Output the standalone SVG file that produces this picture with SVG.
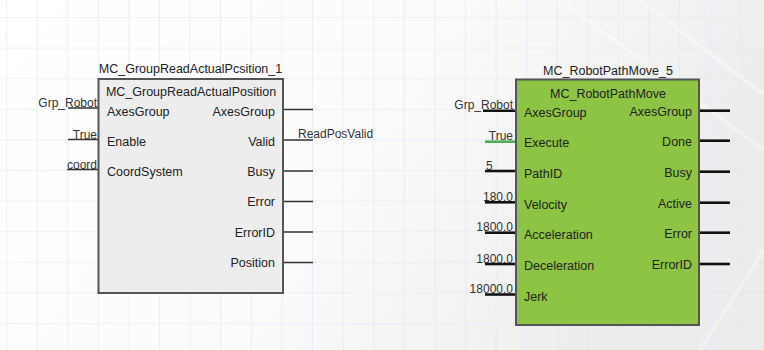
<svg xmlns="http://www.w3.org/2000/svg" width="764" height="350" viewBox="0 0 764 350">
  <defs>
    <linearGradient id="bg" x1="0" y1="0" x2="1" y2="0.3">
      <stop offset="0" stop-color="#ffffff"/>
      <stop offset="0.55" stop-color="#fbfbfb"/>
      <stop offset="1" stop-color="#ececec"/>
    </linearGradient>
    <pattern id="grid" x="6" y="17" width="30.6" height="30.6" patternUnits="userSpaceOnUse">
      <path d="M0 0 H30.6 M0 0 V30.6" fill="none" stroke="#dce8f4" stroke-width="1.2"/>
    </pattern>
  </defs>
  <style>
    text { font-family: "Liberation Sans", Arial, sans-serif; font-size: 12.5px; fill: #222; }
    .r { text-anchor: end; }
    .m { text-anchor: middle; }
    .val { font-size: 12px; fill: #333; }
    .w1 { stroke: #333; stroke-width: 1.5; fill: none; }
    .w2 { stroke: #111; stroke-width: 2.6; fill: none; }
    .wg { stroke: #4caf50; stroke-width: 2.6; fill: none; }
    .blk1 { fill: #ededed; stroke: #555; stroke-width: 2; }
    .blk2 { fill: #8dc444; stroke: #555; stroke-width: 2; }
  </style>
  <rect x="0" y="0" width="764" height="350" fill="url(#bg)"/>
  <rect x="0" y="0" width="764" height="350" fill="url(#grid)"/>
  <path d="M560 0 L764 150 M640 0 L764 95 M700 350 L764 250" stroke="#ffffff" stroke-width="4" opacity="0.35" fill="none"/>

  <g id="connectors">
    <!-- left block inputs -->
    <line class="w1" x1="68" y1="108" x2="98" y2="108"/>
    <line class="w1" x1="68" y1="139.5" x2="98" y2="139.5"/>
    <line class="w1" x1="67" y1="169.5" x2="98" y2="169.5"/>
    <text class="val r" x="97" y="107">Grp_Robot</text>
    <text class="val r" x="97" y="138.5">True</text>
    <text class="val r" x="97" y="168.5">coord</text>
    <!-- left block outputs -->
    <line class="w1" x1="283" y1="109.5" x2="313" y2="109.5"/>
    <line class="w1" x1="283" y1="140" x2="313" y2="140"/>
    <line class="w1" x1="283" y1="171" x2="313" y2="171"/>
    <line class="w1" x1="283" y1="201.5" x2="313" y2="201.5"/>
    <line class="w1" x1="283" y1="232" x2="313" y2="232"/>
    <line class="w1" x1="283" y1="262.5" x2="313" y2="262.5"/>
    <text class="val" x="298" y="138">ReadPosValid</text>
    <!-- right block inputs -->
    <line class="w2" x1="483" y1="110.7" x2="516" y2="110.7"/>
    <line class="wg" x1="485" y1="141.7" x2="516" y2="141.7"/>
    <line class="w2" x1="485" y1="171" x2="516" y2="171"/>
    <line class="w2" x1="485" y1="202.3" x2="516" y2="202.3"/>
    <line class="w2" x1="485" y1="232.7" x2="516" y2="232.7"/>
    <line class="w2" x1="485" y1="264" x2="516" y2="264"/>
    <line class="w2" x1="485" y1="294.5" x2="516" y2="294.5"/>
    <text class="val r" x="513" y="109">Grp_Robot</text>
    <text class="val r" x="513" y="140">True</text>
    <text class="val" x="486" y="169.5">5</text>
    <text class="val r" x="513" y="200.8">180.0</text>
    <text class="val r" x="513" y="231.2">1800.0</text>
    <text class="val r" x="513" y="262.5">1800.0</text>
    <text class="val r" x="513" y="293">18000.0</text>
    <!-- right block outputs -->
    <line class="w2" x1="699" y1="110.7" x2="730" y2="110.7"/>
    <line class="w2" x1="699" y1="140.7" x2="730" y2="140.7"/>
    <line class="w2" x1="699" y1="171.7" x2="730" y2="171.7"/>
    <line class="w2" x1="699" y1="202.7" x2="730" y2="202.7"/>
    <line class="w2" x1="699" y1="232.7" x2="730" y2="232.7"/>
    <line class="w2" x1="699" y1="264" x2="730" y2="264"/>
  </g>

  <g id="MC_GroupReadActualPosition_1">
    <text class="m" x="190.5" y="73">MC_GroupReadActualPcsition_1</text>
    <rect class="blk1" x="98.5" y="79" width="184.5" height="214"/>
    <text class="m" x="191" y="96">MC_GroupReadActualPosition</text>
    <text x="107" y="116">AxesGroup</text>
    <text x="107" y="146">Enable</text>
    <text x="107" y="176">CoordSystem</text>
    <text class="r" x="275" y="116">AxesGroup</text>
    <text class="r" x="275" y="145.5">Valid</text>
    <text class="r" x="275" y="175.5">Busy</text>
    <text class="r" x="275" y="206">Error</text>
    <text class="r" x="275" y="236.5">ErrorID</text>
    <text class="r" x="275" y="267">Position</text>
  </g>

  <g id="MC_RobotPathMove_5">
    <text class="m" x="608" y="75">MC_RobotPathMove_5</text>
    <rect class="blk2" x="516" y="79.5" width="183" height="245.5"/>
    <text class="m" x="608" y="97.5">MC_RobotPathMove</text>
    <text x="524" y="117">AxesGroup</text>
    <text x="524" y="147">Execute</text>
    <text x="524" y="178">PathID</text>
    <text x="524" y="209">Velocity</text>
    <text x="524" y="239">Acceleration</text>
    <text x="524" y="270">Deceleration</text>
    <text x="524" y="300.5">Jerk</text>
    <text class="r" x="692" y="116">AxesGroup</text>
    <text class="r" x="692" y="146">Done</text>
    <text class="r" x="692" y="177">Busy</text>
    <text class="r" x="692" y="208">Active</text>
    <text class="r" x="692" y="238">Error</text>
    <text class="r" x="692" y="269">ErrorID</text>
  </g>
</svg>
